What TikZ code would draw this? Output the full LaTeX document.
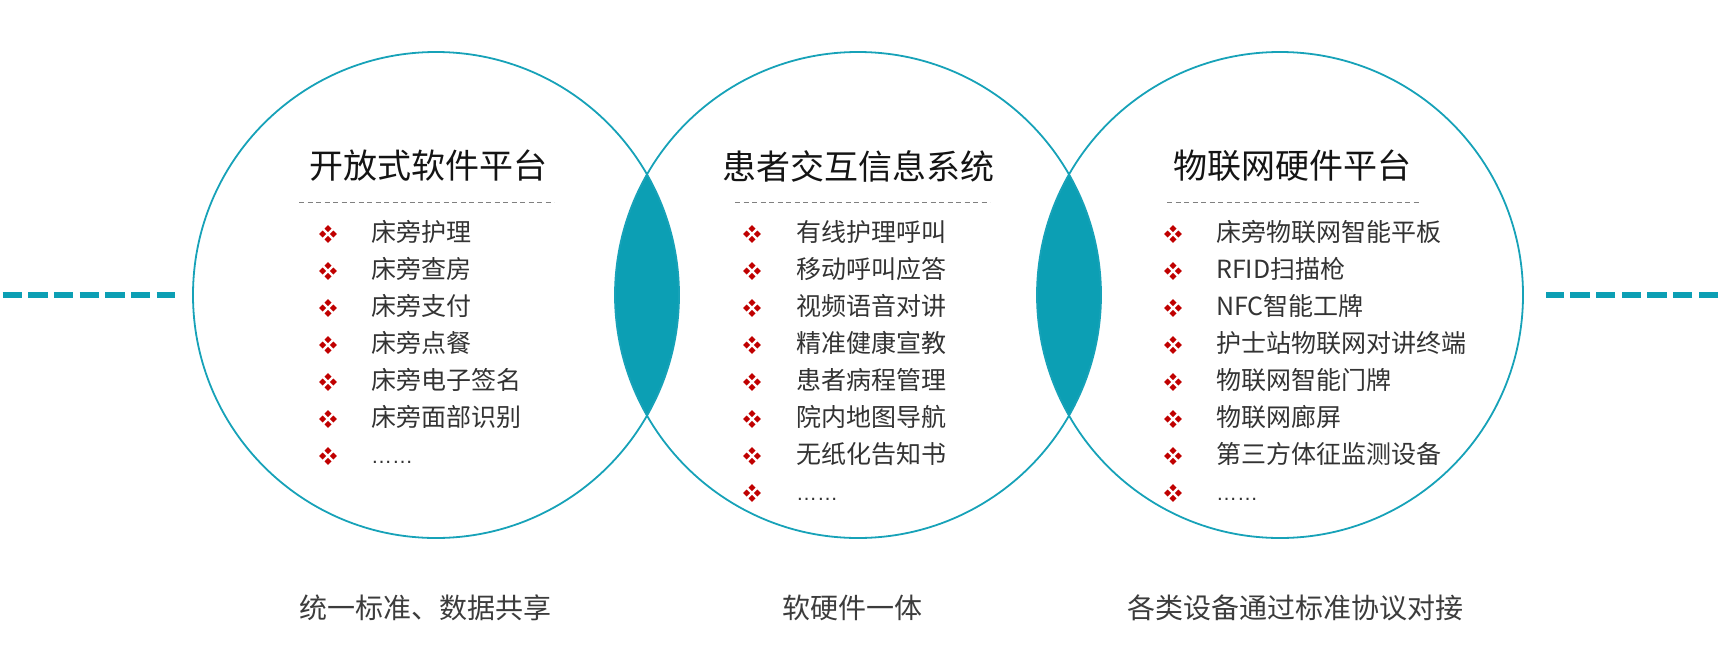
\documentclass[tikz,border=0pt]{standalone}
\usepackage{fontspec}
\setmainfont{Noto Sans CJK SC}
\newfontfamily\latinf{Liberation Sans}
\definecolor{ringc}{HTML}{17A2B8}
\definecolor{lensc}{HTML}{0C9FB4}
\definecolor{bulr}{HTML}{C00000}
\definecolor{txtc}{HTML}{333333}
\definecolor{labc}{HTML}{3C3C3C}
\definecolor{sepc}{HTML}{808080}
\tikzset{
  ring/.style={circle,draw=ringc,line width=1.8pt,minimum size=486pt,inner sep=0pt},
  ttl/.style={font=\fontsize{34pt}{40pt}\selectfont,text=black!92,inner sep=0pt},
  itm/.style={font=\fontsize{25pt}{30pt}\selectfont,text=txtc,anchor=west,inner sep=0pt,text height=0.88em,text depth=0.12em,yshift=-3.5pt},
  lab/.style={font=\fontsize{28pt}{34pt}\selectfont,text=labc,inner sep=0pt},
  sepline/.style={draw=sepc,line width=0.8pt,dash pattern=on 5pt off 3.5pt},
  dashline/.style={draw=lensc,line width=5.5pt,dash pattern=on 19.3pt off 6.4pt},
  bul/.pic={\foreach \dx/\dy in {-5.3/0,5.3/0,0/-5.3,0/5.3}
     \fill[bulr] (\dx,\dy) +(-3.5,0) -- +(0,-3.5) -- +(3.5,0) -- +(0,3.5) -- cycle;}
}
\begin{document}
\begin{tikzpicture}[x=1pt,y=-1pt]
\useasboundingbox (0,0) rectangle (1721,656);
% lenses
\begin{scope}
  \clip (436,295) circle (243pt);
  \fill[lensc] (858,295) circle (243pt);
\end{scope}
\begin{scope}
  \clip (858,295) circle (243pt);
  \fill[lensc] (1280,295) circle (243pt);
\end{scope}
% circles
\node[ring] (c1) at (436,295) {};
\node[ring] (c2) at (858,295) {};
\node[ring] (c3) at (1280,295) {};
% side dashed lines
\coordinate (l0) at (2.5,295);
\coordinate (r0) at (1718,295);
\draw[dashline,shorten >=17pt] (l0) -- (c1.west);
\draw[dashline,shorten >=22pt] (r0) -- (c3.east);
% titles
\node[ttl] (t1) at (428,166) {开放式软件平台};
\node[ttl] (t2) at (858,166) {患者交互信息系统};
\node[ttl] (t3) at (1292,166) {物联网硬件平台};
% separators
\coordinate (s1a) at (299,202); \coordinate (s1b) at (554,202);
\coordinate (s2a) at (735,202); \coordinate (s2b) at (990,202);
\coordinate (s3a) at (1167,202); \coordinate (s3b) at (1421,202);
\draw[sepline] (s1a) -- (s1b);
\draw[sepline] (s2a) -- (s2b);
\draw[sepline] (s3a) -- (s3b);
% items circle 1
\foreach \t [count=\i from 0] in {床旁护理,床旁查房,床旁支付,床旁点餐,床旁电子签名,床旁面部识别}{
  \pic at (328,234+37*\i) {bul};
  \node[itm] (a\i) at (371,234+37*\i) {\t};
}
\pic at (328,456) {bul};
\node[itm] (a6) at (371,456) {\latinf\fontsize{21pt}{24pt}\selectfont ……};
% items circle 2
\foreach \t [count=\i from 0] in {有线护理呼叫,移动呼叫应答,视频语音对讲,精准健康宣教,患者病程管理,院内地图导航,无纸化告知书}{
  \pic at (752,234+37*\i) {bul};
  \node[itm] (b\i) at (796,234+37*\i) {\t};
}
\pic at (752,493) {bul};
\node[itm] (b7) at (796,493) {\latinf\fontsize{21pt}{24pt}\selectfont ……};
% items circle 3
\foreach \t [count=\i from 0] in {床旁物联网智能平板,RFID扫描枪,NFC智能工牌,护士站物联网对讲终端,物联网智能门牌,物联网廊屏,第三方体征监测设备}{
  \pic at (1173,234+37*\i) {bul};
  \node[itm] (d\i) at (1216,234+37*\i) {\t};
}
\pic at (1173,493) {bul};
\node[itm] (d7) at (1216,493) {\latinf\fontsize{21pt}{24pt}\selectfont ……};
% bottom labels
\node[lab] (g1) at (425,608) {统一标准、数据共享};
\node[lab] (g2) at (852,608) {软硬件一体};
\node[lab] (g3) at (1295,608) {各类设备通过标准协议对接};
\end{tikzpicture}
\end{document}
